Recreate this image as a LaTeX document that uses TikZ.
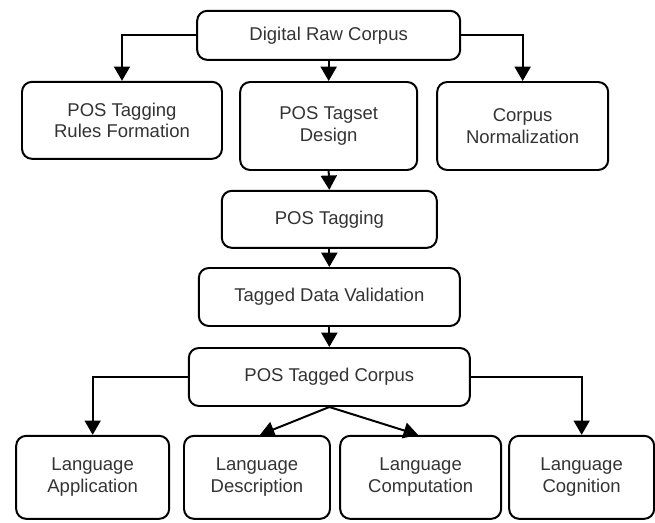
\documentclass[tikz,border=0pt]{standalone}
\usepackage{fontspec}
\setmainfont{Liberation Sans}
\usetikzlibrary{calc, arrows.meta, positioning}

\begin{document}
\begin{tikzpicture}[>={Triangle[length=4.3mm, width=4.8mm]}, line width=1.7pt,
        stage/.style={draw, rounded corners=3mm, align=center, inner sep=0pt,
            font=\fontsize{15.8pt}{18.5pt}\selectfont, text=black!80}]
    \useasboundingbox (0,0) rectangle (19.65,15.66);

    % 1. Kho ngu lieu tho va ba nhanh dau
    \node[stage, minimum width=7.89cm, minimum height=1.47cm] (raw) at (9.86,14.6) {Digital Raw Corpus};
    \node[stage, minimum width=6cm, minimum height=2.31cm] (rules) at (3.66,12.05) {POS Tagging\\Rules Formation};
    \node[stage, minimum width=5.31cm, minimum height=2.64cm] (tagset) at (9.86,11.88) {POS Tagset\\Design};
    \node[stage, minimum width=5.13cm, minimum height=2.64cm] (norm) at (15.68,11.88) {Corpus\\Normalization};

    % 2. Cot giua
    \node[stage, minimum width=6.45cm, minimum height=1.71cm] (tagging) at (9.88,9.08) {POS Tagging};
    \node[stage, minimum width=7.83cm, minimum height=1.74cm] (valid) at (9.88,6.75) {Tagged Data Validation};
    \node[stage, minimum width=8.43cm, minimum height=1.74cm] (corpus) at (9.88,4.35) {POS Tagged Corpus};

    % 3. Hang duoi
    \node[stage, minimum width=4.59cm, minimum height=2.49cm] (app) at (2.78,1.34) {Language\\Application};
    \node[stage, minimum width=4.38cm, minimum height=2.49cm] (desc) at (7.71,1.34) {Language\\Description};
    \node[stage, minimum width=4.83cm, minimum height=2.49cm] (comp) at (12.62,1.34) {Language\\Computation};
    \node[stage, minimum width=4.35cm, minimum height=2.49cm] (cog) at (17.45,1.34) {Language\\Cognition};

    % 4. Mui ten
    \draw[->] (raw.west) -| (rules.north);
    \draw[->] (raw.south) -- (tagset.north);
    \draw[->] (raw.east) -| (norm.north);
    \draw[->] (tagset.south) -- (tagging.north);
    \draw[->] (tagging.south) -- (valid.north);
    \draw[->] (valid.south) -- (corpus.north);
    \draw[->] (corpus.west) -| (app.north);
    \draw[->] (corpus.south) -- ([xshift=0.09cm]desc.north);
    \draw[->] (corpus.south) -- ([xshift=-0.08cm]comp.north);
    \draw[->] (corpus.east) -| (cog.north);
\end{tikzpicture}
\end{document}
